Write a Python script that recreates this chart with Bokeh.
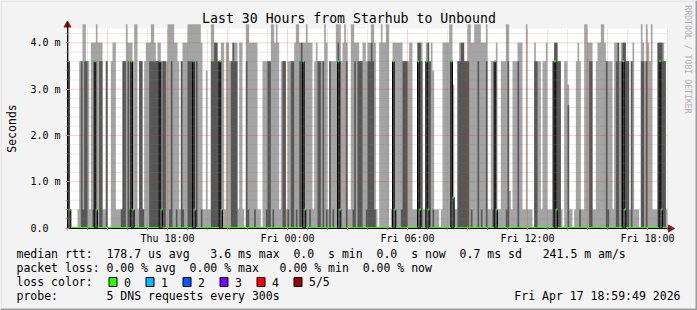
import math
import numpy as np
from bokeh.plotting import figure
from bokeh.models import Range1d, FixedTicker
from bokeh.core.properties import value
from bokeh.embed import file_html
from bokeh.resources import INLINE

# ---------------- data ----------------
TITLE = "Last 30 Hours from Starhub to Unbound"
SPAN_HOURS = 30          # Thu 13:00 .. Fri 19:00
STEP_MIN = 5             # one probe round every 300 s

# ping levels (ms) used by the per-step code strings below
LEVELS = {"0": 0.0, "a": 0.4, "b": 0.66, "i": 0.8, "g": 2.65, "h": 3.1,
          "f": 3.4, "c": 3.6, "d": 4.0, "e": 4.4}

# 4th of 5 sorted pings (top of the dark smoke), 60 steps per chunk
P4_CHUNKS = [
    "ca000000ca" "cc000aca0c" "c00c000000" "00acc0caca" "000cca000c" "ccccccacc0",
    "0ac00a00ca" "00ccccac00" "a00000ccdd" "cca00000cd" "cc00000ca0" "00a000000a",
    "cc0a00000c" "c0a0cc0a0c" "dca00a0000" "cc0c0a0c0a" "00dc000c00" "0ac0ccc00a",
    "ccdca00000" "00000ca000" "accc000000" "ddc00cdc0a" "0000000000" "cb00ccddcc",
    "c0a000c0a0" "0c000aca00" "000ac00000" "c000000000" "cc00000000" "0cddcc0000",
    "g000000a00" "000cc00000" "000ca0000c" "d0cddcc0c0" "0000cc0c00" "0000dddcc0",
]
# 5th (max) ping (top of the light smoke)
P5_CHUNKS = [
    "ea0000acce" "eccadddedd" "daac00cdda" "aaaccedddc" "eeaccacddd" "eedcddcccc",
    "eeeeddcacd" "ddeeeeeeee" "daafaaeedd" "ccddaddccd" "ddadda0eed" "ddddaa0ccc",
    "cceededacc" "caccccdeed" "dddedddacd" "ccccedaccc" "ceeecdedaa" "eedddccddc",
    "ddeeda0ded" "dee0addddd" "dccccddaaa" "dddaaddcdf" "aaa0adddde" "ehaacdddcc",
    "eeddeeeedd" "deaacccdaa" "ccceeiaccc" "dddaaeaaa0" "dcccaccdaa" "acddcca0cc",
    "haa0acdcaa" "eedddaacdd" "eedccccadd" "dcdddccacd" "aaa0edcedc" "eaaaddddca",
]
# median ping
MED_CHUNKS = [
    "ca00000000" "000000ca00" "0000000000" "00000000ca" "0000000000" "00000ca000",
    "0000000000" "00000ca000" "0000000000" "0ca0000000" "0000000000" "0000000000",
    "0000000000" "0000000000" "0ca0000000" "0000000000" "00ca000000" "0000000000",
    "0000000000" "00000ca000" "0000000000" "ca000ca000" "0000000000" "cb00000000",
    "0000000000" "000000ca00" "0000000000" "0000000000" "0000000000" "00ca000000",
    "0000000000" "0000000000" "0000000000" "000ca00000" "0000000000" "00000ca000",
]

X_TICK_HOURS = [2, 5, 8, 11, 14, 17, 20, 23, 26, 29]
X_TICK_LABELS = ["", "Thu 18:00", "", "Fri 00:00", "", "Fri 06:00", "",
                 "Fri 12:00", "", "Fri 18:00"]
Y_TICKS = [0, 1, 2, 3, 4]
Y_TICK_LABELS = ["0.0\u00a0\u00a0", "1.0 m", "2.0 m", "3.0 m", "4.0 m"]

LEGEND_LINES = [
    "median rtt:  178.7 us avg   3.6 ms max  0.0  s min  0.0  s now  0.7 ms sd   241.5 m am/s",
    "packet loss: 0.00 % avg  0.00 % max   0.00 % min  0.00 % now",
    "loss color:",
    "probe:       5 DNS requests every 300s",
]
LOSS_LABELS = ["0", "1", "2", "3", "4", "5/5"]
LOSS_COLORS = ["#26ff00", "#00b8ff", "#0059ff", "#7e00ff", "#ff0000", "#a10000"]
TIMESTAMP = "Fri Apr 17 18:59:49 2026"
WATERMARK = "RRDTOOL / TOBI OETIKER"
Y_LABEL = "Seconds"

# ---------------- decode ----------------
p4 = np.array([LEVELS[c] for c in "".join(P4_CHUNKS)])
p5 = np.array([LEVELS[c] for c in "".join(P5_CHUNKS)])
med = np.array([LEVELS[c] for c in "".join(MED_CHUNKS)])
n = len(p5)
x = np.arange(n + 1) * STEP_MIN / 60.0
p4e = np.append(p4, p4[-1])
p5e = np.append(p5, p5[-1])
mede = np.append(med, med[-1])

# ---------------- layout (the frame is the whole image) ----------------
W, H = 697, 310
FL, FR, FT, FB = 67, 667, 28, 228
Y0, Y1 = -0.01, 4.31
MONO = "DejaVu Sans Mono"
LIGHT = "#a4a4a4"
DARK = "#575757"
BG = "#f3f3f3"
ARROW = "#8b1a1a"

def xd(px):
    return (px - FL) * SPAN_HOURS / (FR - FL)

def yd(py):
    return Y0 + (FB - py) * (Y1 - Y0) / (FB - FT)

def nb(s):
    return s.replace(" ", "\u00a0")

p = figure(width=W, height=H, x_range=Range1d(xd(0), xd(W)), y_range=Range1d(yd(H), yd(0)),
           output_backend="svg", toolbar_location=None,
           min_border_left=0, min_border_right=0, min_border_top=0, min_border_bottom=0,
           background_fill_color=BG, border_fill_color=BG, outline_line_color=None)
p.title.text = ""
p.grid.visible = False

# canvas of the graph
p.quad(left=[0], right=[SPAN_HOURS], bottom=[Y0], top=[Y1], fill_color="white", line_color=None)

# smoke
p.varea_step(x=x, y1=np.zeros(n + 1), y2=p5e, step_mode="after", fill_color=LIGHT)
p.varea_step(x=x, y1=np.zeros(n + 1), y2=p4e, step_mode="after", fill_color=DARK)
# median connector
p.step(x=x, y=mede, mode="after", line_color="black", line_width=1)
# median dashes (loss colour 0)
hw = (Y1 - Y0) / (FB - FT)
lefts, rights, mv = [], [], []
s = 0
for i in range(1, n + 1):
    if i == n or med[i] != med[s]:
        lefts.append(x[s]); rights.append(x[i]); mv.append(med[s]); s = i
mv = np.array(mv)
p.quad(left=lefts, right=rights, bottom=mv - hw, top=mv + hw,
       fill_color=LOSS_COLORS[0], line_color=None)

# grid drawn over the graph (rrdtool style), limited to the graph canvas
xminor = [h for h in range(0, SPAN_HOURS + 1) if h not in X_TICK_HOURS]
yminor = [round(0.2 * k, 1) for k in range(1, 22) if k % 5 != 0]
p.segment(x0=xminor, x1=xminor, y0=[Y0] * len(xminor), y1=[Y1] * len(xminor),
          line_color="#808080", line_alpha=0.35, line_dash="1 1", line_width=1)
p.segment(x0=[0] * len(yminor), x1=[SPAN_HOURS] * len(yminor), y0=yminor, y1=yminor,
          line_color="#808080", line_alpha=0.35, line_dash="1 1", line_width=1)
p.segment(x0=X_TICK_HOURS, x1=X_TICK_HOURS, y0=[Y0] * len(X_TICK_HOURS),
          y1=[Y1] * len(X_TICK_HOURS),
          line_color="#e03030", line_alpha=0.45, line_dash="1 1", line_width=1)
ymaj = [t for t in Y_TICKS if t > 0]
p.segment(x0=[0] * len(ymaj), x1=[SPAN_HOURS] * len(ymaj), y0=ymaj, y1=ymaj,
          line_color="#e03030", line_alpha=0.45, line_dash="1 1", line_width=1)

# axes, fixed at the graph edges
p.xaxis.fixed_location = Y0
p.yaxis.fixed_location = 0
p.xaxis.bounds = (0, xd(670))
p.yaxis.bounds = (Y0, yd(22))
p.xaxis.ticker = FixedTicker(ticks=X_TICK_HOURS, minor_ticks=xminor)
p.xaxis.major_label_overrides = dict(zip(X_TICK_HOURS, X_TICK_LABELS))
p.yaxis.ticker = FixedTicker(ticks=Y_TICKS, minor_ticks=yminor)
p.yaxis.major_label_overrides = dict(zip(Y_TICKS, Y_TICK_LABELS))
for ax in (p.xaxis[0], p.yaxis[0]):
    ax.axis_line_color = "black"
    ax.axis_line_width = 1
    ax.major_tick_in = 2
    ax.major_tick_out = 2
    ax.major_tick_line_color = "#e08080"
    ax.minor_tick_in = 0
    ax.minor_tick_out = 2
    ax.minor_tick_line_color = "#b0b0b0"
    ax.major_label_text_font = MONO
    ax.major_label_text_font_size = "10px"
    ax.major_label_text_color = "black"
p.xaxis.major_label_standoff = 2
p.yaxis.major_label_standoff = 5

# arrows at the axis ends
p.scatter(x=[0], y=[yd(24.5)], marker="triangle", size=7, fill_color=ARROW,
          line_color=ARROW)
p.scatter(x=[xd(670)], y=[Y0], marker="triangle", angle=-math.pi / 2, size=7,
          fill_color=ARROW, line_color=ARROW)

def text(px, py, s, size="11.5px", align="left", color="black", angle=0.0):
    p.text(x=[xd(px)], y=[yd(py)], text=[nb(s)], text_font=value(MONO),
           text_font_size=value(size), text_align=align, text_baseline="middle",
           text_color=color, angle=angle)

text(348.5, 18, TITLE, size="13.2px", align="center")
text(11, 128, Y_LABEL, align="center", angle=math.pi / 2)
text(687.5, 59, WATERMARK, size="8.2px", align="center", color="#b0b0b0",
     angle=-math.pi / 2)
for line, py in zip(LEGEND_LINES, [253.5, 267.5, 281.5, 295.5]):
    text(16, py, line)
text(680, 295.5, TIMESTAMP, align="right")

bx = [108.5 + k * 37.0 for k in range(len(LOSS_LABELS))]
p.quad(left=[xd(b) for b in bx], right=[xd(b + 8) for b in bx],
       top=[yd(277)] * len(bx), bottom=[yd(286)] * len(bx),
       fill_color=LOSS_COLORS, line_color="black", line_width=1)
for b, lab in zip(bx, LOSS_LABELS):
    text(b + 15, 281.5, lab)

# 3D border of the image
def band(px0, py0, px1, py1, col):
    p.quad(left=[xd(px0)], right=[xd(px1)], top=[yd(py0)], bottom=[yd(py1)],
           fill_color=col, line_color=None)

band(0, 0, W, 1, "#dcdcdc")
band(0, 0, 1, H, "#dcdcdc")
band(0, H - 2, W, H, "#9e9e9e")
band(W - 2, 0, W, H, "#9e9e9e")

open("out.html", "w").write(file_html(p, INLINE))
